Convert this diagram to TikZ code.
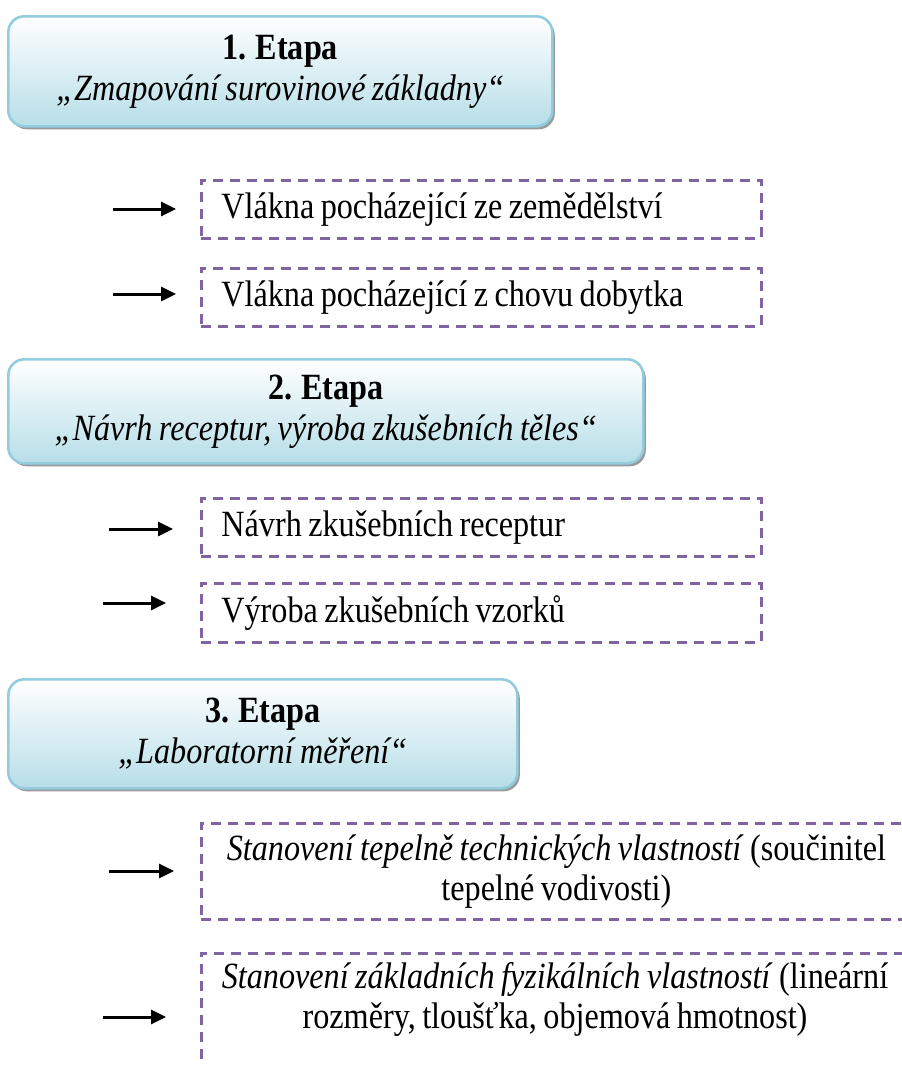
\documentclass[tikz,border=0pt]{standalone}
\usepackage{fontspec}
\setmainfont[FakeStretch=0.87,WordSpace=0.8]{Liberation Serif}
\usetikzlibrary{shadows,arrows.meta}
\definecolor{aquaB}{HTML}{93CDDD}
\definecolor{aquaF}{HTML}{B7DEE8}
\definecolor{purp}{HTML}{8064A2}
\begin{document}
\begin{tikzpicture}[x=1pt,y=-1pt,
  stage/.style={draw=aquaB, line width=2.6pt, rounded corners=16pt,
    top color=white, bottom color=aquaF,
    drop shadow={shadow xshift=2.5pt, shadow yshift=-3pt, fill=black!40, opacity=1},
    align=center, font=\fontsize{37}{41}\selectfont, anchor=north west, inner sep=0pt},
  dbox/.style={draw=purp, line width=2.8pt, dash pattern=on 10pt off 7pt,
    font=\fontsize{37}{40}\selectfont, anchor=north west},
  lbox/.style={dbox, text width=520pt, inner xsep=20pt, inner ysep=0pt, align=flush left, minimum height=58pt},
  txt/.style={font=\fontsize{37}{40}\selectfont, align=center, inner sep=0pt},
  arr/.style={line width=3pt, -{Triangle[length=15pt,width=14pt]}}
]
\useasboundingbox (0,0) rectangle (902,1066);
\clip (0,0) rectangle (902,1066);

% stages
\node[stage, minimum width=544pt, minimum height=110pt] (s1) at (7,15)
  {\textbf{1. Etapa}\\\textit{„Zmapování surovinové základny“}};
\node[stage, minimum width=635pt, minimum height=104pt] (s2) at (7,358)
  {\textbf{2. Etapa}\\\textit{„Návrh receptur, výroba zkušebních těles“}};
\node[stage, minimum width=509pt, minimum height=109pt] (s3) at (7,678)
  {\textbf{3. Etapa}\\\textit{„Laboratorní měření“}};

% dashed boxes
\node[lbox] (d1) at (200,179) {Vlákna pocházející ze zemědělství};
\node[lbox] (d2) at (200,267) {Vlákna pocházející z chovu dobytka};
\node[lbox] (d3) at (200,497) {Návrh zkušebních receptur};
\node[lbox, minimum height=59pt] (d4) at (200,582) {Výroba zkušebních vzorků};
\node[dbox, minimum width=710pt, minimum height=96pt, align=center, inner sep=0pt] (d5) at (200,822)
  {\textit{Stanovení tepelně technických vlastností} (součinitel\\tepelné vodivosti)};
\node[dbox, minimum width=710pt, minimum height=150pt, inner sep=0pt] (d6) at (200,952) {};
\node[txt] (t6) at (555,999)
  {\textit{Stanovení základních fyzikálních vlastností} (lineární\\rozměry, tloušťka, objemová hmotnost)};

% arrows
\coordinate (a1) at (113,209);
\coordinate (a2) at (113,294);
\coordinate (a3) at (109,529);
\coordinate (a4) at (103,603);
\coordinate (a5) at (109,871);
\coordinate (a6) at (103,1017);
\draw[arr] (a1) -- (a1 -| 176,0);
\draw[arr] (a2) -- (a2 -| 176,0);
\draw[arr] (a3) -- (a3 -| 173,0);
\draw[arr] (a4) -- (a4 -| 166,0);
\draw[arr] (a5) -- (a5 -| 174,0);
\draw[arr] (a6) -- (a6 -| 166,0);
\end{tikzpicture}
\end{document}
